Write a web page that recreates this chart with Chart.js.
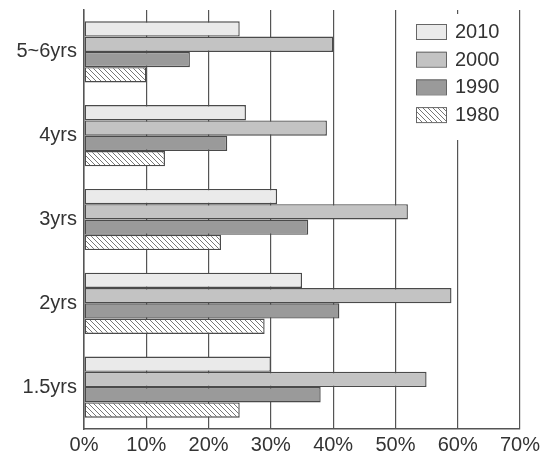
<!DOCTYPE html>
<html>
<head>
<meta charset="utf-8">
<script src="https://cdn.jsdelivr.net/npm/chart.js@4/dist/chart.umd.min.js"></script>
<style>
  html, body { margin: 0; padding: 0; background: #fff; }
  #wrap { width: 544px; height: 456px; }
</style>
</head>
<body>
<div id="wrap"><canvas id="chart-canvas"></canvas></div>
<script>
const ages = ['5~6yrs', '4yrs', '3yrs', '2yrs', '1.5yrs'];
const years = ['2010', '2000', '1990', '1980'];
const values2010 = [25, 26, 31, 35, 30];
const values2000 = [40, 39, 52, 59, 55];
const values1990 = [17, 23, 36, 41, 38];
const values1980 = [10, 13, 22, 29, 25];
const xTicks = [0, 10, 20, 30, 40, 50, 60, 70];

const FONT = "'Liberation Sans', Arial, sans-serif";

// diagonal hatch for the 1980 bars
let makeHatch = () => {
    const c = document.createElement('canvas');
    c.width = 5; c.height = 5;
    const g = c.getContext('2d');
    g.fillStyle = '#fff';
    g.fillRect(0, 0, 5, 5);
    g.strokeStyle = '#777';
    g.lineWidth = 1;
    g.beginPath();
    g.moveTo(-1, -1); g.lineTo(6, 6);
    g.moveTo(-1, 4); g.lineTo(1, 6);
    g.moveTo(4, -1); g.lineTo(6, 1);
    g.stroke();
    return g.createPattern(c, 'repeat');
}
const hatch = makeHatch();

const fills = ['#eaeaea', '#c3c3c3', '#9a9a9a', hatch];
const series = [values2010, values2000, values1990, values1980];

// legend drawn inside the plot, upper right, with white box behind it
const boxLegend = {
    id: 'boxLegend',
    afterDatasetsDraw(chart) {
        const ctx = chart.ctx;
        ctx.save();
        ctx.fillStyle = '#fff';
        ctx.fillRect(406, 14, 108, 126);
        years.forEach((y, i) => {
            const top = 24 + i * 27.7;
            ctx.fillStyle = fills[i];
            ctx.fillRect(416, top, 30, 15);
            ctx.strokeStyle = '#666';
            ctx.lineWidth = 1;
            ctx.strokeRect(416.5, top + 0.5, 30, 15);
            ctx.fillStyle = '#333';
            ctx.font = '20px ' + FONT;
            ctx.textBaseline = 'middle';
            ctx.fillText(y, 455, top + 8.5);
        });
        ctx.restore();
    }
};

let ctx = document.getElementById('chart-canvas').getContext('2d');
let ageChart = new Chart(ctx, {
    type: 'bar',
    data: {
        labels: ages,
        datasets: years.map((y, i) => ({
            label: y,
            data: series[i],
            backgroundColor: fills[i],
            borderColor: '#4a4a4a',
            borderWidth: 1.4,
            borderSkipped: false,
            barPercentage: 1.0,
            categoryPercentage: 0.73
        }))
    },
    options: {
        responsive: true,
        maintainAspectRatio: false,
        animation: false,
        indexAxis: 'y',
        layout: { padding: { top: 10, right: 24, left: 0, bottom: 0 } },
        plugins: {
            legend: { display: false },
            tooltip: { enabled: false }
        },
        scales: {
            x: {
                min: 0,
                max: 70,
                afterBuildTicks: (axis) => { axis.ticks = xTicks.map(v => ({ value: v })); },
                grid: { color: '#555', lineWidth: 1.2, drawTicks: false },
                border: { display: true, color: '#555', width: 1.5 },
                ticks: {
                    padding: 4,
                    color: '#333',
                    font: { family: FONT, size: 20 },
                    callback: (v) => v + '%'
                },
                afterFit: (axis) => {
                    axis.height = 27;
                    axis.paddingLeft = 0;
                    axis.paddingRight = 0;
                }
            },
            y: {
                grid: { display: false, drawTicks: false },
                border: { display: true, color: '#555', width: 1.5 },
                ticks: {
                    padding: 7,
                    color: '#333',
                    font: { family: FONT, size: 20 }
                },
                afterFit: (axis) => {
                    axis.width = 84;
                    axis.paddingTop = 0;
                    axis.paddingBottom = 0;
                }
            }
        }
    },
    plugins: [boxLegend]
});
</script>
</body>
</html>
